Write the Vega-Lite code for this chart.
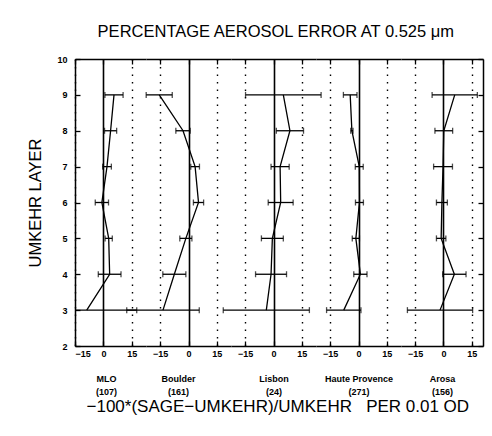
{
  "$schema": "https://vega.github.io/schema/vega-lite/v6.json",
  "padding": {"left": 27, "top": 23, "right": 5, "bottom": 5},
  "background": "white",
  "data": {"values": [
    {"station": "MLO", "layer": 9, "pct": 5.6, "err": 4.8},
    {"station": "MLO", "layer": 8, "pct": 3.8, "err": 3.2},
    {"station": "MLO", "layer": 7, "pct": 1.9, "err": 2.3},
    {"station": "MLO", "layer": 6, "pct": -0.8, "err": 3.5},
    {"station": "MLO", "layer": 5, "pct": 2.8, "err": 1.9},
    {"station": "MLO", "layer": 4, "pct": 3.3, "err": 6.0},
    {"station": "MLO", "layer": 3, "pct": -8.8, "err": 26.4},
    {"station": "Boulder", "layer": 9, "pct": -15.5, "err": 6.9},
    {"station": "Boulder", "layer": 8, "pct": -2.9, "err": 3.8},
    {"station": "Boulder", "layer": 7, "pct": 3.5, "err": 2.3},
    {"station": "Boulder", "layer": 6, "pct": 5.3, "err": 2.7},
    {"station": "Boulder", "layer": 5, "pct": -1.4, "err": 3.2},
    {"station": "Boulder", "layer": 4, "pct": -7.5, "err": 6.1},
    {"station": "Boulder", "layer": 3, "pct": -13.5, "err": 19.2},
    {"station": "Lisbon", "layer": 9, "pct": 5.2, "err": 20.0},
    {"station": "Lisbon", "layer": 8, "pct": 8.7, "err": 7.2},
    {"station": "Lisbon", "layer": 7, "pct": 3.5, "err": 4.8},
    {"station": "Lisbon", "layer": 6, "pct": 3.8, "err": 6.6},
    {"station": "Lisbon", "layer": 5, "pct": -0.6, "err": 5.8},
    {"station": "Lisbon", "layer": 4, "pct": -1.3, "err": 8.2},
    {"station": "Lisbon", "layer": 3, "pct": -3.8, "err": 22.8},
    {"station": "Haute Provence", "layer": 9, "pct": -4.4, "err": 3.6},
    {"station": "Haute Provence", "layer": 8, "pct": -3.5, "err": 0.6},
    {"station": "Haute Provence", "layer": 7, "pct": 0.4, "err": 2.1},
    {"station": "Haute Provence", "layer": 6, "pct": 0.5, "err": 2.1},
    {"station": "Haute Provence", "layer": 5, "pct": -1.4, "err": 1.9},
    {"station": "Haute Provence", "layer": 4, "pct": 1.0, "err": 3.5},
    {"station": "Haute Provence", "layer": 3, "pct": -7.8, "err": 9.1},
    {"station": "Arosa", "layer": 9, "pct": 6.0, "err": 12.0},
    {"station": "Arosa", "layer": 8, "pct": 0.2, "err": 4.7},
    {"station": "Arosa", "layer": 7, "pct": -0.2, "err": 5.0},
    {"station": "Arosa", "layer": 6, "pct": -0.8, "err": 2.9},
    {"station": "Arosa", "layer": 5, "pct": -1.2, "err": 2.5},
    {"station": "Arosa", "layer": 4, "pct": 5.8, "err": 6.2},
    {"station": "Arosa", "layer": 3, "pct": -1.8, "err": 17.3}
  ]},
  "title": {"text": "PERCENTAGE AEROSOL ERROR AT 0.525 μm", "fontSize": 16.5, "fontWeight": "normal", "font": "Liberation Sans", "color": "black", "offset": 15, "anchor": "middle", "dx": 20},
  "vconcat": [{
    "title": {"text": "−100*(SAGE−UMKEHR)/UMKEHR\u00a0\u00a0\u00a0PER 0.01 OD", "orient": "bottom", "fontSize": 17, "fontWeight": "normal", "font": "Liberation Sans", "color": "black", "offset": 3, "anchor": "middle", "dx": 22},
    "spacing": 0,
    "bounds": "flush",
    "hconcat": [
      {
        "width": 71, "height": 287,
        "transform": [{"filter": "datum.station === 'MLO'"}],
        "resolve": {"axis": {"x": "independent", "y": "independent"}},
        "layer": [
          {"mark": {"type": "line", "color": "black", "strokeWidth": 1.3, "clip": true},
           "encoding": {
             "x": {"field": "pct", "type": "quantitative", "scale": {"domain": [-15, 22.5], "nice": false, "zero": false},
                   "axis": {"orient": "bottom", "values": [-15, 0, 15], "grid": true, "gridColor": "black",
                            "gridDash": {"condition": {"test": "datum.value === 0", "value": []}, "value": [1.5, 6]},
                            "gridWidth": {"condition": {"test": "datum.value === 0", "value": 1.6}, "value": 1.4},
                            "title": ["MLO", "(107)"], "titleX": 31}},
             "y": {"field": "layer", "type": "quantitative", "scale": {"domain": [2, 10], "nice": false, "zero": false},
                   "axis": {"orient": "left", "values": [2, 3, 4, 5, 6, 7, 8, 9, 10], "format": "d", "grid": false, "labelPadding": 13, "title": "UMKEHR LAYER",
                            "titleFontSize": 16.5, "titleFontWeight": "normal", "titlePadding": 13}},
             "order": {"field": "layer", "type": "quantitative"}}},
          {"mark": {"type": "errorbar", "color": "black", "thickness": 1.3, "ticks": {"size": 6}, "clip": true},
           "encoding": {
             "x": {"field": "pct", "type": "quantitative", "axis": {"orient": "top", "values": [-15, 0, 15], "labels": false, "title": null, "grid": false}},
             "xError": {"field": "err"},
             "y": {"field": "layer", "type": "quantitative", "axis": null}}}
        ]
      },
      {
        "width": 85, "height": 287,
        "transform": [{"filter": "datum.station === 'Boulder'"}],
        "resolve": {"axis": {"x": "independent", "y": "independent"}},
        "layer": [
          {"mark": {"type": "line", "color": "black", "strokeWidth": 1.3, "clip": false},
           "encoding": {
             "x": {"field": "pct", "type": "quantitative", "scale": {"domain": [-22.5, 22.5], "nice": false, "zero": false},
                   "axis": {"orient": "bottom", "values": [-15, 0, 15], "grid": true, "gridColor": "black",
                            "gridDash": {"condition": {"test": "datum.value === 0", "value": []}, "value": [1.5, 6]},
                            "gridWidth": {"condition": {"test": "datum.value === 0", "value": 1.6}, "value": 1.4},
                            "title": ["Boulder", "(161)"], "titleX": 32}},
             "y": {"field": "layer", "type": "quantitative", "scale": {"domain": [2, 10], "nice": false, "zero": false}, "axis": null},
             "order": {"field": "layer", "type": "quantitative"}}},
          {"mark": {"type": "errorbar", "color": "black", "thickness": 1.3, "ticks": {"size": 6}, "clip": false},
           "encoding": {
             "x": {"field": "pct", "type": "quantitative", "axis": {"orient": "top", "values": [-15, 0, 15], "labels": false, "title": null, "grid": false}},
             "xError": {"field": "err"},
             "y": {"field": "layer", "type": "quantitative", "axis": null}}}
        ]
      },
      {
        "width": 85, "height": 287,
        "transform": [{"filter": "datum.station === 'Lisbon'"}],
        "resolve": {"axis": {"x": "independent", "y": "independent"}},
        "layer": [
          {"mark": {"type": "line", "color": "black", "strokeWidth": 1.3, "clip": false},
           "encoding": {
             "x": {"field": "pct", "type": "quantitative", "scale": {"domain": [-22.5, 22.5], "nice": false, "zero": false},
                   "axis": {"orient": "bottom", "values": [-15, 0, 15], "grid": true, "gridColor": "black",
                            "gridDash": {"condition": {"test": "datum.value === 0", "value": []}, "value": [1.5, 6]},
                            "gridWidth": {"condition": {"test": "datum.value === 0", "value": 1.6}, "value": 1.4},
                            "title": ["Lisbon", "(24)"]}},
             "y": {"field": "layer", "type": "quantitative", "scale": {"domain": [2, 10], "nice": false, "zero": false}, "axis": null},
             "order": {"field": "layer", "type": "quantitative"}}},
          {"mark": {"type": "errorbar", "color": "black", "thickness": 1.3, "ticks": {"size": 6}, "clip": false},
           "encoding": {
             "x": {"field": "pct", "type": "quantitative", "axis": {"orient": "top", "values": [-15, 0, 15], "labels": false, "title": null, "grid": false}},
             "xError": {"field": "err"},
             "y": {"field": "layer", "type": "quantitative", "axis": null}}}
        ]
      },
      {
        "width": 85, "height": 287,
        "transform": [{"filter": "datum.station === 'Haute Provence'"}],
        "resolve": {"axis": {"x": "independent", "y": "independent"}},
        "layer": [
          {"mark": {"type": "line", "color": "black", "strokeWidth": 1.3, "clip": false},
           "encoding": {
             "x": {"field": "pct", "type": "quantitative", "scale": {"domain": [-22.5, 22.5], "nice": false, "zero": false},
                   "axis": {"orient": "bottom", "values": [-15, 0, 15], "grid": true, "gridColor": "black",
                            "gridDash": {"condition": {"test": "datum.value === 0", "value": []}, "value": [1.5, 6]},
                            "gridWidth": {"condition": {"test": "datum.value === 0", "value": 1.6}, "value": 1.4},
                            "title": ["Haute Provence", "(271)"]}},
             "y": {"field": "layer", "type": "quantitative", "scale": {"domain": [2, 10], "nice": false, "zero": false}, "axis": null},
             "order": {"field": "layer", "type": "quantitative"}}},
          {"mark": {"type": "errorbar", "color": "black", "thickness": 1.3, "ticks": {"size": 6}, "clip": false},
           "encoding": {
             "x": {"field": "pct", "type": "quantitative", "axis": {"orient": "top", "values": [-15, 0, 15], "labels": false, "title": null, "grid": false}},
             "xError": {"field": "err"},
             "y": {"field": "layer", "type": "quantitative", "axis": null}}}
        ]
      },
      {
        "width": 82, "height": 287,
        "transform": [{"filter": "datum.station === 'Arosa'"}],
        "resolve": {"axis": {"x": "independent", "y": "independent"}},
        "layer": [
          {"mark": {"type": "line", "color": "black", "strokeWidth": 1.3, "clip": true},
           "encoding": {
             "x": {"field": "pct", "type": "quantitative", "scale": {"domain": [-22.5, 21], "nice": false, "zero": false},
                   "axis": {"orient": "bottom", "values": [-15, 0, 15], "grid": true, "gridColor": "black",
                            "gridDash": {"condition": {"test": "datum.value === 0", "value": []}, "value": [1.5, 6]},
                            "gridWidth": {"condition": {"test": "datum.value === 0", "value": 1.6}, "value": 1.4},
                            "title": ["Arosa", "(156)"]}},
             "y": {"field": "layer", "type": "quantitative", "scale": {"domain": [2, 10], "nice": false, "zero": false}, "axis": null},
             "order": {"field": "layer", "type": "quantitative"}}},
          {"mark": {"type": "errorbar", "color": "black", "thickness": 1.3, "ticks": {"size": 6}, "clip": true},
           "encoding": {
             "x": {"field": "pct", "type": "quantitative", "axis": {"orient": "top", "values": [-15, 0, 15], "labels": false, "title": null, "grid": false}},
             "xError": {"field": "err"},
             "y": {"field": "layer", "type": "quantitative", "axis": {"orient": "right", "values": [2, 3, 4, 5, 6, 7, 8, 9, 10], "labels": false, "title": null, "grid": false}}}}
        ]
      }
    ]
  }],
  "config": {
    "font": "Liberation Sans",
    "view": {"stroke": null},
    "axis": {
      "domainColor": "black", "domainWidth": 1.5,
      "tickColor": "black", "tickSize": -5, "tickWidth": 1.3,
      "labelColor": "black", "labelFont": "Liberation Sans", "labelFontSize": 9, "labelFontWeight": "bold", "labelPadding": 8,
      "titleColor": "black", "titleFont": "Liberation Sans", "titleFontSize": 9, "titleFontWeight": "bold", "titleLineHeight": 13, "titlePadding": 16
    }
  }
}
